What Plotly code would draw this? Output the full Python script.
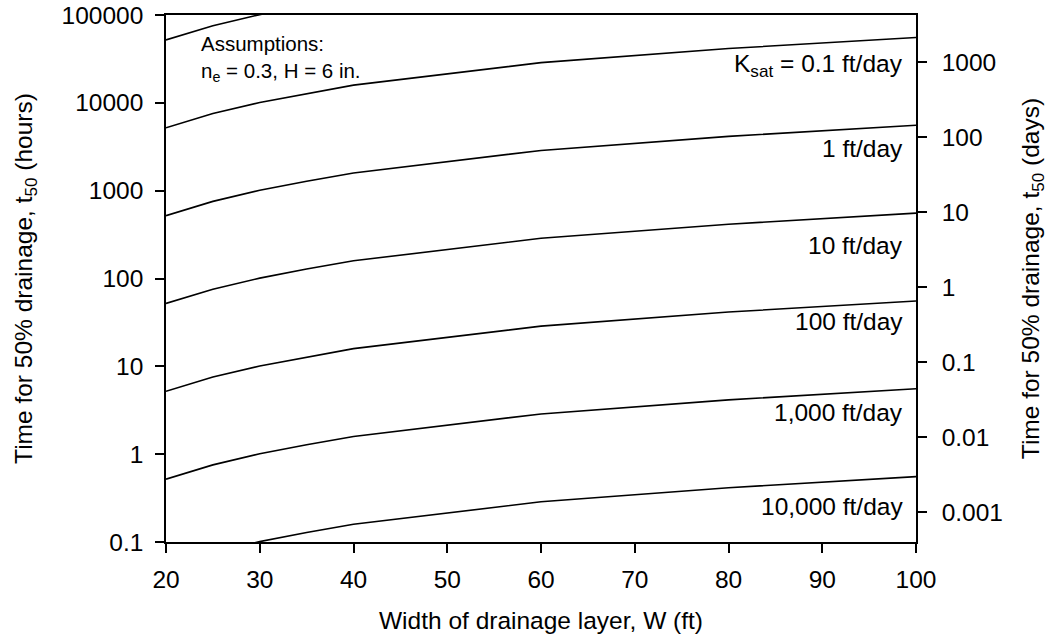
import math
import plotly.graph_objects as go

# Drainage layer width, W (ft)
width_ft = [20, 25, 30, 35, 40, 60, 80, 100]

# Time for 50% drainage (hours) for each saturated hydraulic conductivity
t50_k0_01 = [52000, 75500, 101000, 128000, 159000, 287000, 415000, 555000]
t50_k0_1 = [5200, 7550, 10100, 12800, 15900, 28700, 41500, 55500]
t50_k1 = [520, 755, 1010, 1280, 1590, 2870, 4150, 5550]
t50_k10 = [52, 75.5, 101, 128, 159, 287, 415, 555]
t50_k100 = [5.2, 7.55, 10.1, 12.8, 15.9, 28.7, 41.5, 55.5]
t50_k1000 = [0.52, 0.755, 1.01, 1.28, 1.59, 2.87, 4.15, 5.55]
t50_k10000 = [0.052, 0.0755, 0.101, 0.128, 0.159, 0.287, 0.415, 0.555]

curves = [t50_k0_01, t50_k0_1, t50_k1, t50_k10, t50_k100, t50_k1000, t50_k10000]
curve_labels = [None, "K<sub>sat</sub> = 0.1 ft/day", "1 ft/day", "10 ft/day",
                "100 ft/day", "1,000 ft/day", "10,000 ft/day"]
label_shift_px = [0, -28, -23, -32, -21, -24, -30]

x_ticks = [20, 30, 40, 50, 60, 70, 80, 90, 100]
hour_ticks = [0.1, 1, 10, 100, 1000, 10000, 100000]
hour_tick_text = ["0.1", "1", "10", "100", "1000", "10000", "100000"]
day_ticks = [0.001, 0.01, 0.1, 1, 10, 100, 1000]
day_tick_text = ["0.001", "0.01", "0.1", "1", "10", "100", "1000"]

# axis extents (log10 units)
hour_range = [-1, 5]
day_range = [-3.396, 3.631]

FONT = "Liberation Sans, Arial, sans-serif"
FS = 24.5

fig = go.Figure()
for ys in curves:
    fig.add_trace(go.Scatter(x=width_ft, y=ys, mode="lines",
                             line=dict(color="black", width=1.6),
                             showlegend=False, hoverinfo="skip"))

# companion trace so the days axis is attached
fig.add_trace(go.Scatter(x=[width_ft[0]], y=[day_ticks[3]], yaxis="y2",
                         mode="markers", marker=dict(opacity=0),
                         showlegend=False, hoverinfo="skip"))

annotations = []
for ys, lab, sh in zip(curves, curve_labels, label_shift_px):
    if lab is None:
        continue
    annotations.append(dict(x=width_ft[-1], y=math.log10(ys[-1]), xref="x", yref="y",
                            text=lab, showarrow=False, xanchor="right", yanchor="middle",
                            xshift=-11, yshift=sh,
                            font=dict(family=FONT, size=FS, color="black")))

annotations.append(dict(x=23.5, y=0.971, xref="x", yref="paper",
                        text="Assumptions:<br>n<sub>e</sub> = 0.3, H = 6 in.",
                        showarrow=False, xanchor="left", yanchor="top", align="left",
                        font=dict(family=FONT, size=20.5, color="black")))

axis_common = dict(showgrid=False, zeroline=False, showline=True, linecolor="black",
                   linewidth=1.5, ticks="outside", ticklen=9, tickwidth=1.5,
                   tickcolor="black", automargin=False,
                   tickfont=dict(family=FONT, size=FS, color="black"))

fig.update_layout(
    width=1052, height=643,
    margin=dict(l=166, r=136, t=15, b=101, autoexpand=False),
    paper_bgcolor="white", plot_bgcolor="white",
    font=dict(family=FONT, size=FS, color="black"),
    xaxis=dict(range=[20, 100], tickvals=x_ticks, mirror=True, ticklabelstandoff=6,
               title=dict(text="Width of drainage layer, W (ft)",
                          font=dict(family=FONT, size=FS), standoff=20),
               **axis_common),
    yaxis=dict(type="log", range=hour_range,
               tickvals=hour_ticks, ticktext=hour_tick_text, ticklabelstandoff=7,
               title=dict(text="Time for 50% drainage, t<sub>50</sub> (hours)",
                          font=dict(family=FONT, size=FS), standoff=22),
               **axis_common),
    yaxis2=dict(type="log", overlaying="y", side="right", anchor="x",
                range=day_range, ticklabelstandoff=10,
                tickvals=day_ticks, ticktext=day_tick_text,
                title=dict(text="Time for 50% drainage, t<sub>50</sub> (days)",
                           font=dict(family=FONT, size=FS), standoff=20),
                **axis_common),
    annotations=annotations,
)

fig.write_html("out.html")
